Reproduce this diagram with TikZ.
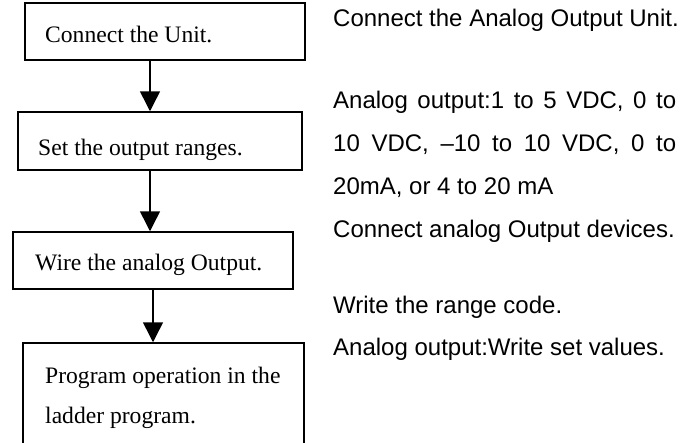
\documentclass[tikz,border=0pt]{standalone}
\usepackage{fontspec}
\setmainfont{Liberation Serif}
\newfontfamily\notefont{Liberation Sans}
\usetikzlibrary{arrows.meta}
\tikzset{
  stepbox/.style={draw, line width=1.5pt, rectangle, inner sep=0pt},
  steptext/.style={anchor=base west, inner sep=0pt, font=\fontsize{23.6}{28}\selectfont},
  note/.style={anchor=base west, inner sep=0pt, font=\notefont\fontsize{24}{28}\selectfont},
  flow/.style={line width=1.5pt, -{Triangle[width=20pt,length=20pt]}}
}
\begin{document}
\begin{tikzpicture}[x=1pt,y=-1pt]
\useasboundingbox (0,0) rectangle (680,442);
\clip (0,0) rectangle (680,442);

% process steps
\node[stepbox, minimum width=280pt, minimum height=57pt] (b1) at (165,31.5) {};
\node[stepbox, minimum width=284pt, minimum height=58pt] (b2) at (160,141) {};
\node[stepbox, minimum width=280pt, minimum height=57pt] (b3) at (153,260.5) {};
\node[stepbox, minimum width=281pt, minimum height=140pt] (b4) at (163.5,413) {};

\node[steptext] (t1) at (45,42) {Connect the Unit.};
\node[steptext] (t2) at (38,155) {Set the output ranges.};
\node[steptext] (t3) at (35,270) {Wire the analog Output.};
\node[steptext] (t4a) at (45,383) {Program operation in the};
\node[steptext] (t4b) at (45,423) {ladder program.};

% flow arrows
\draw[flow] (150,0 |- b1.south) -- (150,0 |- b2.north);
\draw[flow] (150,0 |- b2.south) -- (150,0 |- b3.north);
\draw[flow] (153,0 |- b3.south) -- (153,0 |- b4.north);

% explanatory notes
\node[note] (n1) at (333,26) {Connect the Analog Output Unit.};
\node[note] (n2) at (333,108) {\makebox[343pt][s]{Analog output:1 to 5 VDC, 0 to}};
\node[note] (n3) at (333,151) {\makebox[343pt][s]{10 VDC, –10 to 10 VDC, 0 to}};
\node[note] (n4) at (333,194) {20mA, or 4 to 20 mA};
\node[note] (n5) at (333,237) {Connect analog Output devices.};
\node[note] (n6) at (333,313) {Write the range code.};
\node[note] (n7) at (333,355) {Analog output:Write set values.};
\end{tikzpicture}
\end{document}
